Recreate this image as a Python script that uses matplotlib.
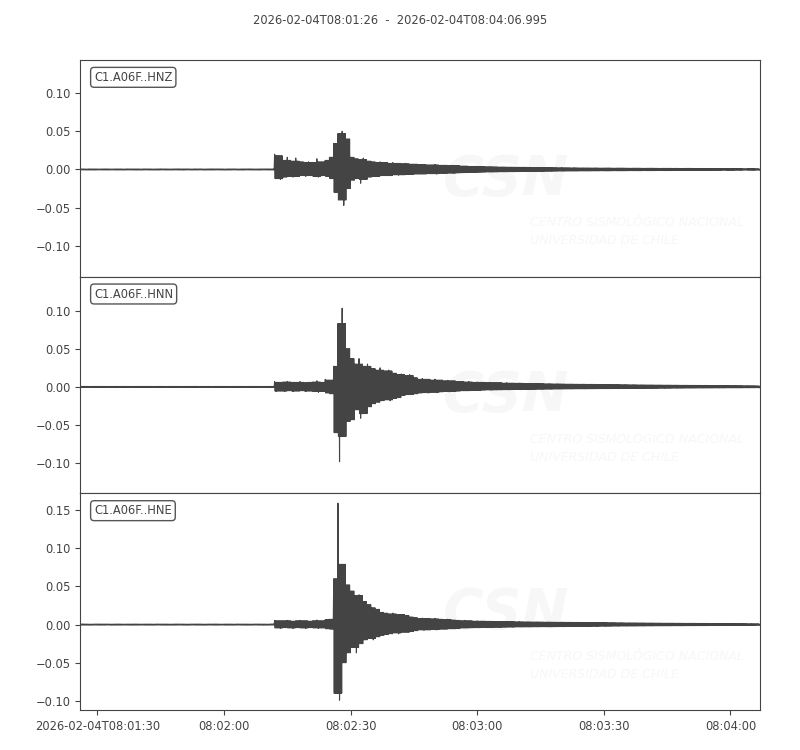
"""
Seismogram plot (3 components) for station C1.A06F, ObsPy-like layout.
Envelopes read off the reference picture, one value per second.
"""

import numpy as np
import pandas as pd
import matplotlib.pyplot as plt

# -----------------------------------------------------------------
# data: per-second upper / lower envelope of each trace (x 1e-3)
# -----------------------------------------------------------------
start_time = "2026-02-04T08:01:26"
end_time = "2026-02-04T08:04:06.995"
trace_ids = ["C1.A06F..HNZ", "C1.A06F..HNN", "C1.A06F..HNE"]

tick_times = ["2026-02-04T08:01:30", "2026-02-04T08:02:00", "2026-02-04T08:02:30",
              "2026-02-04T08:03:00", "2026-02-04T08:03:30", "2026-02-04T08:04:00"]
tick_labels = ["2026-02-04T08:01:30", "08:02:00", "08:02:30",
               "08:03:00", "08:03:30", "08:04:00"]

hnz_upper = [
    0.7, 0.6, 0.8, 0.7, 0.6, 0.7, 0.8, 0.6, 0.7, 0.7, 0.6, 0.8, 0.7, 0.7, 0.6, 0.8, 0.7, 0.6, 0.7, 0.8,
    0.7, 0.6, 0.7, 0.8, 0.7, 0.7, 0.6, 0.8, 0.7, 0.6, 0.7, 0.8, 0.7, 0.7, 0.6, 0.8, 0.7, 0.6, 0.7, 0.7,
    0.8, 0.6, 0.7, 0.7, 0.8, 0.7,
    20, 18, 12, 16, 11, 15, 10, 9, 10, 9, 14, 10, 12, 16,
    34, 47, 50, 40, 16, 14, 13, 15, 11, 10,
    9, 10, 9, 8, 9, 8, 7.5, 8, 7, 7,
    6.5, 6.5, 6, 6, 6.5, 5.5, 5.5, 5, 5.5, 5,
    4.5, 4.5, 4, 4, 4.2, 3.8, 3.5, 3.6, 3.4, 3.2,
    3.3, 3.0, 3.1, 2.9, 2.8, 3.0, 2.7, 2.6, 2.5, 2.6,
    2.4, 2.5, 2.3, 2.2, 2.4, 2.2, 2.1, 2.3, 2.0, 2.1,
    2.0, 1.9, 2.1, 1.8, 1.9, 2.0, 1.7, 1.8, 1.9, 1.7,
    1.6, 1.8, 1.7, 1.5, 1.6, 1.7, 1.5, 1.4, 1.6, 1.5,
    1.4, 1.5, 1.3, 1.4, 1.5, 1.3, 1.2, 1.4, 1.3, 1.2,
    1.3, 1.2, 1.1, 1.3, 1.2, 1.1, 1.2, 1.0, 1.1, 1.2, 1.0,
]
hnz_lower = [
    0.6, 0.7, 0.7, 0.8, 0.6, 0.7, 0.7, 0.6, 0.8, 0.7, 0.7, 0.6, 0.7, 0.8, 0.7, 0.6, 0.7, 0.7, 0.8, 0.6,
    0.7, 0.7, 0.6, 0.7, 0.8, 0.6, 0.7, 0.7, 0.6, 0.8, 0.7, 0.7, 0.6, 0.7, 0.8, 0.7, 0.6, 0.7, 0.8, 0.6,
    0.7, 0.7, 0.8, 0.6, 0.7, 0.7,
    12, 13, 10, 9, 10, 9, 8, 9, 8, 9, 10, 8, 9, 12,
    30, 40, 47, 25, 14, 12, 18, 13, 10, 9,
    9, 8, 8, 8, 7, 7.5, 7, 6.5, 6.5, 6,
    6, 6, 5.5, 5.5, 6, 5, 5, 4.8, 5, 4.5,
    4.2, 4, 3.8, 3.8, 3.6, 3.5, 3.3, 3.4, 3.2, 3.0,
    3.1, 2.9, 2.9, 2.8, 2.6, 2.8, 2.5, 2.5, 2.4, 2.4,
    2.3, 2.3, 2.2, 2.1, 2.2, 2.0, 2.0, 2.1, 1.9, 1.9,
    1.9, 1.8, 1.9, 1.7, 1.8, 1.8, 1.6, 1.7, 1.7, 1.6,
    1.5, 1.6, 1.6, 1.4, 1.5, 1.5, 1.4, 1.3, 1.5, 1.4,
    1.3, 1.4, 1.2, 1.3, 1.4, 1.2, 1.1, 1.3, 1.2, 1.1,
    1.2, 1.1, 1.0, 1.2, 1.1, 1.0, 1.1, 0.9, 1.0, 1.1, 0.9,
]

hnn_upper = [
    0.7, 0.8, 0.6, 0.7, 0.7, 0.8, 0.6, 0.7, 0.7, 0.6, 0.8, 0.7, 0.6, 0.7, 0.8, 0.7, 0.7, 0.6, 0.8, 0.7,
    0.6, 0.7, 0.8, 0.7, 0.6, 0.7, 0.7, 0.8, 0.6, 0.7, 0.7, 0.6, 0.8, 0.7, 0.7, 0.6, 0.7, 0.8, 0.7, 0.6,
    0.7, 0.8, 0.7, 0.6, 0.7, 0.7,
    7, 6, 6.5, 7, 6, 6, 7, 5.5, 6, 6.5, 8, 6, 10, 9,
    27, 83, 103, 50, 37, 30, 37, 27, 30, 24,
    22, 25, 21, 22, 18, 16, 17, 15, 16, 12,
    10, 11, 10, 9, 10, 9, 8, 8.5, 8, 7,
    7, 6.5, 7, 6, 6.5, 6, 5.5, 6, 5.5, 5.5,
    5, 5.5, 5, 4.8, 5, 4.5, 4.6, 4.4, 4.5, 4.2,
    4.0, 4.2, 3.9, 4.0, 3.8, 3.6, 3.8, 3.5, 3.4, 3.6,
    3.3, 3.4, 3.2, 3.0, 3.2, 3.1, 2.9, 3.0, 2.8, 2.9,
    2.7, 2.8, 2.6, 2.7, 2.5, 2.6, 2.4, 2.5, 2.3, 2.4,
    2.2, 2.3, 2.1, 2.2, 2.0, 2.1, 2.0, 1.9, 2.0, 1.8,
    1.9, 1.8, 1.7, 1.8, 1.6, 1.7, 1.6, 1.5, 1.6, 1.5, 1.4,
]
hnn_lower = [
    0.7, 0.6, 0.7, 0.8, 0.7, 0.6, 0.7, 0.7, 0.8, 0.6, 0.7, 0.7, 0.6, 0.8, 0.7, 0.6, 0.7, 0.8, 0.7, 0.7,
    0.6, 0.8, 0.7, 0.6, 0.7, 0.7, 0.8, 0.6, 0.7, 0.7, 0.6, 0.8, 0.7, 0.7, 0.6, 0.7, 0.8, 0.6, 0.7, 0.7,
    0.8, 0.7, 0.6, 0.7, 0.7, 0.8,
    6, 5.5, 6, 5, 6, 5.5, 5, 6, 5.5, 6, 7, 6, 8, 9,
    60, 98, 65, 45, 43, 30, 41, 35, 26, 22,
    20, 18, 17, 18, 15, 14, 11, 10, 10, 9,
    8, 7.5, 8, 7, 7.5, 6.5, 6, 6.5, 6, 5.5,
    5, 5, 4.8, 4.5, 4.6, 4.2, 4, 4.2, 3.9, 3.8,
    3.6, 3.8, 3.5, 3.4, 3.5, 3.2, 3.3, 3.1, 3.0, 3.1,
    2.9, 3.0, 2.8, 2.8, 2.7, 2.6, 2.7, 2.5, 2.5, 2.6,
    2.4, 2.4, 2.3, 2.2, 2.3, 2.2, 2.1, 2.2, 2.0, 2.1,
    2.0, 2.0, 1.9, 1.9, 1.8, 1.9, 1.8, 1.7, 1.8, 1.7,
    1.6, 1.7, 1.6, 1.5, 1.6, 1.5, 1.4, 1.5, 1.4, 1.4,
    1.3, 1.4, 1.3, 1.2, 1.3, 1.2, 1.2, 1.1, 1.2, 1.1, 1.0,
]

hne_upper = [
    0.8, 0.7, 0.6, 0.7, 0.8, 0.7, 0.7, 0.6, 0.7, 0.8, 0.6, 0.7, 0.7, 0.8, 0.6, 0.7, 0.7, 0.6, 0.8, 0.7,
    0.7, 0.6, 0.7, 0.8, 0.7, 0.6, 0.7, 0.7, 0.8, 0.6, 0.7, 0.7, 0.8, 0.6, 0.7, 0.7, 0.6, 0.8, 0.7, 0.7,
    0.6, 0.7, 0.8, 0.7, 0.6, 0.8,
    5.5, 5, 5, 5.5, 4.5, 5, 5.5, 5, 4.5, 5, 6, 5, 6.5, 7,
    60, 159, 79, 52, 44, 38, 39, 30, 26, 22,
    20, 16, 15, 14, 15, 13, 13, 12, 10, 9,
    8, 8.5, 8, 7.5, 8, 7, 6.5, 7, 6, 5.5,
    5, 5.5, 5, 4.5, 4.8, 4.5, 4.2, 4.4, 4, 4.2,
    4, 3.8, 4, 3.6, 3.8, 3.5, 3.6, 3.4, 3.5, 3.3,
    3.2, 3.4, 3.1, 3.0, 3.2, 2.9, 3.0, 2.8, 2.9, 2.7,
    2.8, 2.6, 2.7, 2.5, 2.6, 2.4, 2.5, 2.3, 2.4, 2.2,
    2.3, 2.2, 2.1, 2.2, 2.0, 2.1, 1.9, 2.0, 1.8, 1.9,
    1.8, 1.7, 1.8, 1.6, 1.7, 1.6, 1.5, 1.6, 1.5, 1.4,
    1.5, 1.4, 1.3, 1.4, 1.3, 1.2, 1.3, 1.2, 1.1, 1.2, 1.1,
]
hne_lower = [
    0.7, 0.7, 0.8, 0.6, 0.7, 0.7, 0.6, 0.8, 0.7, 0.7, 0.6, 0.7, 0.8, 0.7, 0.6, 0.7, 0.8, 0.7, 0.6, 0.7,
    0.8, 0.7, 0.7, 0.6, 0.7, 0.8, 0.6, 0.7, 0.7, 0.8, 0.6, 0.7, 0.7, 0.6, 0.8, 0.7, 0.7, 0.6, 0.7, 0.8,
    0.7, 0.6, 0.7, 0.8, 0.7, 0.6,
    4.5, 5, 4, 4.5, 5, 4, 4.5, 5, 4, 4.5, 5, 4.5, 5.5, 6,
    90, 99, 50, 37, 30, 37, 25, 20, 18, 20,
    16, 14, 13, 12, 11, 12, 10, 10, 9, 8,
    7, 7.5, 7, 6.5, 7, 6, 6, 5.5, 5.5, 5,
    4.5, 4.5, 4.2, 4, 4.2, 3.8, 3.8, 3.6, 3.5, 3.6,
    3.4, 3.3, 3.4, 3.1, 3.2, 3.0, 3.1, 2.9, 3.0, 2.8,
    2.8, 2.9, 2.7, 2.6, 2.7, 2.5, 2.6, 2.4, 2.5, 2.3,
    2.4, 2.2, 2.3, 2.1, 2.2, 2.1, 2.0, 2.1, 1.9, 2.0,
    1.9, 1.9, 1.8, 1.8, 1.7, 1.8, 1.6, 1.7, 1.6, 1.6,
    1.5, 1.5, 1.6, 1.4, 1.5, 1.4, 1.3, 1.4, 1.3, 1.2,
    1.3, 1.2, 1.2, 1.1, 1.2, 1.1, 1.1, 1.0, 1.1, 1.0, 0.9,
]

envelopes = [(hnz_upper, hnz_lower), (hnn_upper, hnn_lower), (hne_upper, hne_lower)]
SCALE = 1e-3

# -----------------------------------------------------------------
# prep
# -----------------------------------------------------------------
t0 = pd.Timestamp(start_time)
duration = (pd.Timestamp(end_time) - t0).total_seconds()
tick_pos = [(pd.Timestamp(s) - t0).total_seconds() for s in tick_times]


def body_level(a):
    # a second only sticks out as a thin spike above its larger neighbour
    p = np.pad(np.abs(a), 1, mode="edge")
    return np.minimum(p[1:-1], np.maximum(p[:-2], p[2:])) * np.sign(a)


traces = []
for up, lo in envelopes:
    up = np.array(up) * SCALE
    lo = -np.array(lo) * SCALE
    bu, bl = body_level(up), body_level(lo)
    sec = np.arange(len(up), dtype=float)
    # 8 vertices per second: one spike up, one spike down, the rest at body level
    x = np.column_stack([sec + k / 8 for k in range(8)]).ravel()
    y = np.column_stack([up, bl, bu, lo, bu, bl, bu, bl]).ravel()
    traces.append((x, y, up.max(), lo.min()))

# same vertical scale for all panels (like obspy equal_scale)
half = 1.1 * max((hi - lo) / 2 for _, _, hi, lo in traces)

GREY = "#444444"
plt.rcParams["font.family"] = "DejaVu Sans"
plt.rcParams["text.color"] = GREY
plt.rcParams["xtick.color"] = GREY
plt.rcParams["ytick.color"] = GREY
plt.rcParams["axes.edgecolor"] = GREY

# -----------------------------------------------------------------
# plot
# -----------------------------------------------------------------
fig, axes = plt.subplots(3, 1, figsize=(8, 7.5), dpi=100, sharex=True)
fig.subplots_adjust(left=0.1006, right=0.95, top=0.92, bottom=0.0533, hspace=0)
fig.text(0.5, 0.973, f"{start_time}  -  {end_time}", ha="center", va="center",
         fontsize=8.3)

for ax, (x, y, hi, lo), tid in zip(axes, traces, trace_ids):
    ax.plot(x, y, color=GREY, lw=0.8, zorder=3)
    mid = (hi + lo) / 2
    ax.set_ylim(mid - half, mid + half)
    ax.set_xlim(0, duration)
    ax.tick_params(labelsize=8.3)
    ax.text(0.02, 0.95, tid, transform=ax.transAxes, ha="left", va="top",
            fontsize=8.3, zorder=5,
            bbox=dict(boxstyle="round", fc="white", ec="#555555", lw=1))
    # faint CSN watermark
    ax.text(0.626, 0.447, "CSN", transform=ax.transAxes, ha="center", va="center",
            fontsize=40, fontweight="bold", fontstyle="italic", color="#f7f7f7", zorder=1)
    ax.text(0.662, 0.248, "CENTRO SISMOLÓGICO NACIONAL", transform=ax.transAxes,
            ha="left", va="center", fontsize=9, fontstyle="italic", color="#f7f7f7", zorder=1)
    ax.text(0.662, 0.165, "UNIVERSIDAD DE CHILE", transform=ax.transAxes,
            ha="left", va="center", fontsize=9, fontstyle="italic", color="#f7f7f7", zorder=1)

for ax in axes[:-1]:
    ax.tick_params(bottom=False, labelbottom=False)

axes[-1].set_xticks(tick_pos)
axes[-1].set_xticklabels(tick_labels)

plt.savefig("out.png", dpi=100)
